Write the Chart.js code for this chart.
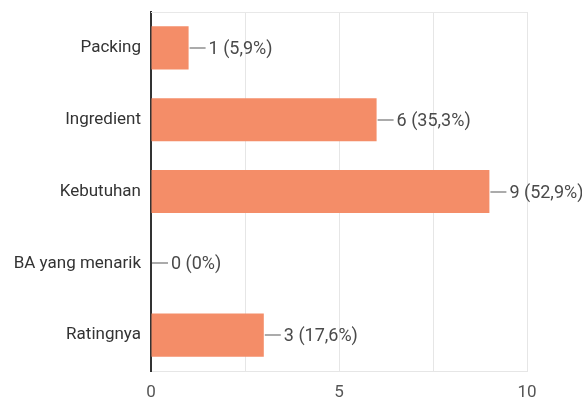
<!DOCTYPE html>
<html>
<head>
<meta charset="utf-8">
<script src="https://cdn.jsdelivr.net/npm/chart.js@4"></script>
<style>
  html, body { margin: 0; padding: 0; background: #fff; }
  #wrap { width: 582px; height: 399px; }
</style>
</head>
<body>
<div id="wrap"><canvas id="chart" width="582" height="399"></canvas></div>
<script>
// data
const categories = ["Packing", "Ingredient", "Kebutuhan", "BA yang menarik", "Ratingnya"];
const counts = [1, 6, 9, 0, 3];
const percents = ["5,9%", "35,3%", "52,9%", "0%", "17,6%"];
const xTicks = [0, 5, 10];

// value labels with a short leader line
const valueLabels = {
  id: "valueLabels",
  afterDatasetsDraw(chart) {
    const ctx = chart.ctx;
    const meta = chart.getDatasetMeta(0);
    ctx.save();
    ctx.font = "18px Roboto";
    ctx.textBaseline = "middle";
    meta.data.forEach((bar, i) => {
      const x = bar.x, y = Math.round(bar.y);
      ctx.strokeStyle = "#8f8f8f";
      ctx.lineWidth = 1.5;
      ctx.beginPath();
      ctx.moveTo(x + 1, y);
      ctx.lineTo(x + 17, y);
      ctx.stroke();
      ctx.fillStyle = "#4a4a4a";
      ctx.fillText(`${counts[i]} (${percents[i]})`, x + 20, y + 1);
    });
    ctx.restore();
  }
};

// light top frame line
const topLine = {
  id: "topLine",
  beforeDatasetsDraw(chart) {
    const { ctx, chartArea: a } = chart;
    ctx.save();
    ctx.strokeStyle = "#e8e8e8";
    ctx.lineWidth = 1;
    ctx.beginPath();
    ctx.moveTo(a.left, a.top + 0.5);
    ctx.lineTo(a.right, a.top + 0.5);
    ctx.stroke();
    ctx.restore();
  }
};

new Chart(document.getElementById("chart"), {
  type: "bar",
  data: {
    labels: categories,
    datasets: [{
      data: counts,
      backgroundColor: "#f48d68",
      borderWidth: 0,
      barPercentage: 0.6,
      categoryPercentage: 1
    }]
  },
  options: {
    indexAxis: "y",
    responsive: false,
    animation: false,
    layout: { padding: { top: 12, right: 55, bottom: 0, left: 0 } },
    plugins: { legend: { display: false }, tooltip: { enabled: false } },
    scales: {
      x: {
        min: 0, max: 10,
        afterFit: s => { s.height = 28; s.paddingLeft = 0; s.paddingRight = 0; },
        ticks: {
          stepSize: 2.5,
          padding: 12,
          color: "#555",
          font: { family: "Roboto", size: 17 },
          callback: v => xTicks.includes(v) ? String(v) : ""
        },
        grid: {
          color: c => c.tick && c.tick.value === 0 ? "rgba(0,0,0,0)" : "#e6e6e6",
          drawTicks: false
        },
        border: { color: "#e6e6e6" }
      },
      y: {
        afterFit: s => { s.width = 151; s.paddingTop = 0; s.paddingBottom = 0; },
        ticks: {
          padding: 10,
          color: "#333",
          font: { family: "Roboto", size: 17 }
        },
        grid: { display: false, drawTicks: false },
        border: { display: true, color: "#333", width: 2 }
      }
    }
  },
  plugins: [valueLabels, topLine]
});
</script>
</body>
</html>
